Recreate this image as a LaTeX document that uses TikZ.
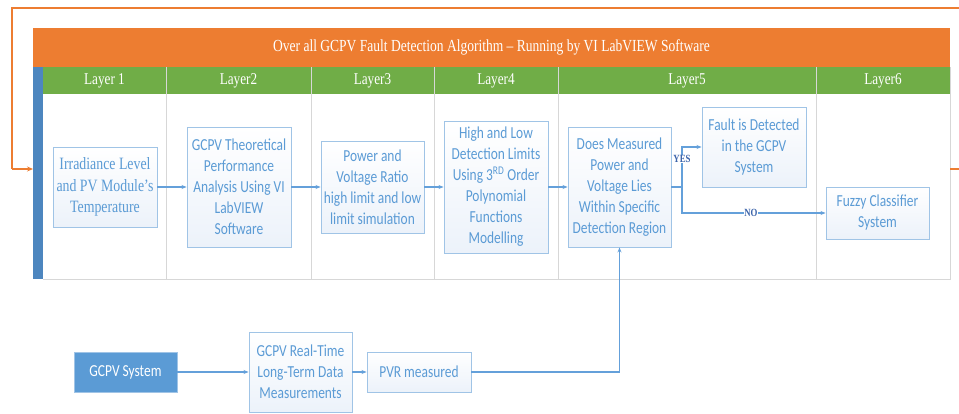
\documentclass[tikz,border=0pt]{standalone}
\usepackage{fontspec}
\setmainfont[FakeStretch=0.8]{Liberation Serif}
\newfontfamily\calib[FakeStretch=0.8]{Carlito}
\usetikzlibrary{arrows.meta,positioning,calc}

\definecolor{hdrorange}{RGB}{237,125,49}
\definecolor{laygreen}{RGB}{112,173,71}
\definecolor{barblue}{RGB}{77,134,191}
\definecolor{txtblue}{RGB}{91,155,213}
\definecolor{edgeblue}{RGB}{160,196,230}
\definecolor{lineblue}{RGB}{100,160,218}
\definecolor{gridgrey}{RGB}{215,215,215}
\definecolor{shadeblue}{RGB}{236,242,250}
\definecolor{labelblue}{RGB}{60,100,170}

\tikzset{
  procbox/.style={draw=edgeblue, line width=0.9pt, top color=white, bottom color=shadeblue,
    text=txtblue, align=center, inner sep=1pt, font=\calib\fontsize{16.8}{21}\selectfont},
  serifbox/.style={procbox, font=\fontsize{17.3}{21.5}\selectfont},
  solidbox/.style={draw=edgeblue, line width=0.9pt, fill=txtblue, text=white, align=center,
    font=\calib\fontsize{16.8}{21}\selectfont},
  flow/.style={draw=lineblue, line width=1.1pt, -{Stealth[length=5pt,width=4pt]}},
  loopline/.style={draw=hdrorange, line width=1.8pt},
  layertxt/.style={text=white, font=\fontsize{16.5}{18}\selectfont},
  decision/.style={fill=white, text=labelblue, inner sep=0.5pt, font=\bfseries\fontsize{11}{12}\selectfont},
}

\begin{document}
\begin{tikzpicture}[x=1pt, y=-1pt]
\useasboundingbox (0,0) rectangle (959,414);

% header band and layer row
\fill[hdrorange] (33,28) rectangle (950,67);
\node[text=white, font=\fontsize{16.9}{19}\selectfont] (title) at (491.5,47.5)
  {Over all GCPV Fault Detection Algorithm -- Running by VI LabVIEW Software};
\fill[laygreen] (43,67) rectangle (950,94);

% column grid
\draw[gridgrey, line width=0.9pt] (43,279) -- (950,279) -- (950,67);
\foreach \cx in {166,311,434,558,816}
  \draw[gridgrey, line width=0.9pt] (\cx,67) -- (\cx,279);

% blue side bar
\node[fill=barblue, minimum width=10pt, minimum height=212pt, inner sep=0pt, anchor=north west] (bar) at (33,67) {};

% layer labels
\node[layertxt] (l1) at (104.5,80.5) {Layer 1};
\node[layertxt] (l2) at (238.5,80.5) {Layer2};
\node[layertxt] (l3) at (372.5,80.5) {Layer3};
\node[layertxt] (l4) at (496,80.5) {Layer4};
\node[layertxt] (l5) at (687,80.5) {Layer5};
\node[layertxt] (l6) at (883,80.5) {Layer6};

% process boxes
\node[serifbox, minimum width=104pt, minimum height=80pt] (b1) at (105,187)
  {Irradiance Level\\and PV Module's\\Temperature};
\node[procbox, minimum width=104pt, minimum height=120pt] (b2) at (239,187)
  {GCPV Theoretical\\Performance\\Analysis Using VI\\LabVIEW\\Software};
\node[procbox, minimum width=103pt, minimum height=92pt] (b3) at (372.5,187)
  {Power and\\Voltage Ratio\\high limit and low\\limit simulation};
\node[procbox, minimum width=104pt, minimum height=132pt] (b4) at (496,187)
  {High and Low\\Detection Limits\\Using 3\textsuperscript{RD} Order\\Polynomial\\Functions\\Modelling};
\node[procbox, minimum width=103pt, minimum height=120pt] (b5) at (619.5,187)
  {Does Measured\\Power and\\Voltage Lies\\Within Specific\\Detection Region};
\node[procbox, minimum width=104pt, minimum height=80pt] (b6) at (754,147)
  {Fault is Detected\\in the GCPV\\System};
\node[procbox, minimum width=103pt, minimum height=52pt] (b7) at (877.5,213)
  {Fuzzy Classifier\\System};

% measurement chain
\node[solidbox, minimum width=103pt, minimum height=40pt] (g1) at (125.5,372) {GCPV System};
\node[procbox, minimum width=103pt, minimum height=80pt] (g2) at (300.5,372)
  {GCPV Real-Time\\Long-Term Data\\Measurements};
\node[procbox, minimum width=104pt, minimum height=40pt] (g3) at (419,372) {PVR measured};

% flow connectors
\draw[flow] (b1) -- (b2);
\draw[flow] (b2) -- (b3);
\draw[flow] (b3) -- (b4);
\draw[flow] (b4) -- (b5);
\coordinate (split) at (682,187);
\draw[draw=lineblue, line width=1.1pt] (b5.east) -- (split);
\draw[flow] (split) |- (b6.west) node[decision, pos=0.35] {YES};
\draw[flow] (split) |- (b7.west) node[decision, pos=0.74] {NO};
\draw[flow] (g1) -- (g2);
\draw[flow] (g2) -- (g3);
\draw[flow] (g3.east) -| (b5.south);

% feedback loop of the whole algorithm
\coordinate (loopR) at (959,8);
\coordinate (loopL) at (12,8);
\coordinate (loopIn) at (12,169);
\coordinate (stubA) at (950,169);
\coordinate (stubB) at (959,169);
\draw[loopline] (loopR) -- (loopL) -- (loopIn);
\draw[loopline, -{Stealth[length=6pt,width=5pt]}] (loopIn) -- (bar.west |- loopIn);
\draw[loopline] (stubA) -- (stubB);
\end{tikzpicture}
\end{document}
